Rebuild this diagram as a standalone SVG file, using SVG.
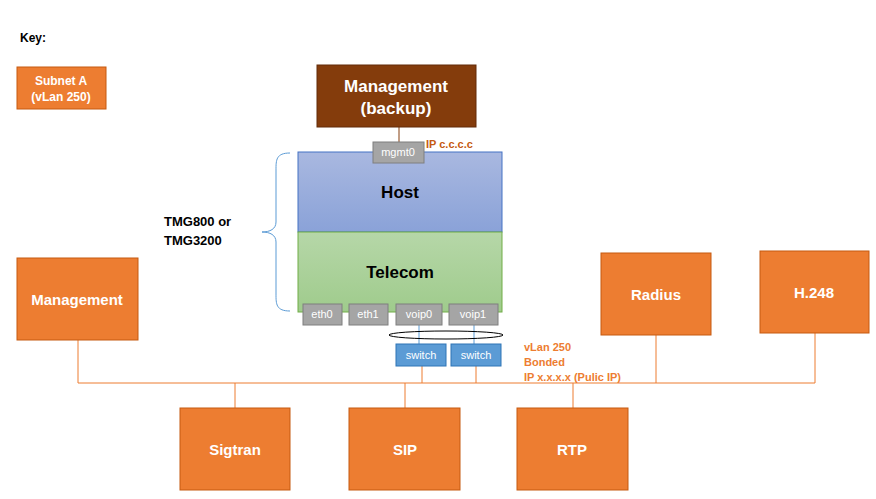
<svg xmlns="http://www.w3.org/2000/svg" width="876" height="499" viewBox="0 0 876 499">
<defs>
<linearGradient id="gh" x1="0" y1="0" x2="0" y2="1"><stop offset="0" stop-color="#a9b8e0"/><stop offset="1" stop-color="#8aa2d8"/></linearGradient>
<linearGradient id="gt" x1="0" y1="0" x2="0" y2="1"><stop offset="0" stop-color="#b6d7a8"/><stop offset="1" stop-color="#9fcb8c"/></linearGradient>
</defs>
<style>
.o{fill:#ed7d31;stroke:#c55a11;stroke-width:1}
.ot{font-family:"Liberation Sans",Arial,sans-serif;font-weight:bold;fill:#fff;text-anchor:middle}
.g{fill:#a5a5a5;stroke:#7f7f7f;stroke-width:1}
.gt{font-family:"Liberation Sans",Arial,sans-serif;font-size:11px;fill:#fff;text-anchor:middle}
.s{fill:#5b9bd5;stroke:#2e75b6;stroke-width:1}
.bt{font-family:"Liberation Sans",Arial,sans-serif;font-weight:bold;fill:#000;text-anchor:middle}
.ln{stroke:#ed7d31;stroke-width:1;fill:none}
.lab{font-family:"Liberation Sans",Arial,sans-serif;font-size:11px;font-weight:bold;fill:#ed7d31}
</style>
<g id="connectors">
<path class="ln" d="M78 383H815M78 340V383M656 335V383M815 333V383M235 383V408M405 383V408M573 383V408M422 366V383M476 366V383"/>
<path d="M399 127V142" stroke="#843c0c" fill="none"/>
<path d="M419 325V344M474 325V344" stroke="#5b9bd5" fill="none"/>
<ellipse cx="446" cy="335" rx="57" ry="4" fill="none" stroke="#000"/>
</g>
<text x="20" y="42" font-family="Liberation Sans,Arial,sans-serif" font-weight="bold" font-size="12">Key:</text>
<g id="key"><rect class="o" x="17" y="67" width="89" height="42"/><text class="ot" font-size="12" x="61" y="85">Subnet A</text><text class="ot" font-size="12" x="61" y="101">(vLan 250)</text></g>
<g id="mgmt-backup"><rect x="317" y="65" width="159" height="62" fill="#843c0c" stroke="#622b08"/><text class="ot" font-size="17" x="396" y="92">Management</text><text class="ot" font-size="17" x="396" y="114">(backup)</text></g>
<g id="host"><rect x="298" y="152" width="204" height="80" fill="url(#gh)" stroke="#4472c4"/><text class="bt" font-size="17" x="400" y="198">Host</text></g>
<g id="telecom"><rect x="298" y="232" width="204" height="80" fill="url(#gt)" stroke="#70ad47"/><text class="bt" font-size="17" x="400" y="278">Telecom</text></g>
<g id="mgmt0"><rect class="g" x="373" y="142" width="51" height="21"/><text class="gt" x="398" y="156">mgmt0</text></g>
<text class="lab" x="426" y="148" fill="#c55a11" style="fill:#c55a11">IP c.c.c.c</text>
<g id="eth0"><rect class="g" x="303" y="304" width="39" height="21"/><text class="gt" x="322" y="318">eth0</text></g>
<g id="eth1"><rect class="g" x="349" y="304" width="39" height="21"/><text class="gt" x="368" y="318">eth1</text></g>
<g id="voip0"><rect class="g" x="396" y="304" width="46" height="21"/><text class="gt" x="419" y="318">voip0</text></g>
<g id="voip1"><rect class="g" x="449" y="304" width="49" height="21"/><text class="gt" x="473" y="318">voip1</text></g>
<g id="switch1"><rect class="s" x="396" y="344" width="50" height="22"/><text class="gt" x="421" y="359">switch</text></g>
<g id="switch2"><rect class="s" x="451" y="344" width="50" height="22"/><text class="gt" x="476" y="359">switch</text></g>
<path d="M290 153C276 153 276 160 276 170V222C276 229 270 232 262 232C270 232 276 235 276 242V294C276 304 276 311 290 311" fill="none" stroke="#5b9bd5"/>
<text x="164" y="226" font-family="Liberation Sans,Arial,sans-serif" font-weight="bold" font-size="13">TMG800 or</text>
<text x="164" y="245" font-family="Liberation Sans,Arial,sans-serif" font-weight="bold" font-size="13">TMG3200</text>
<text class="lab" x="524" y="351">vLan 250</text>
<text class="lab" x="524" y="366">Bonded</text>
<text class="lab" x="524" y="381">IP x.x.x.x (Pulic IP)</text>
<g id="management"><rect class="o" x="17" y="258" width="121" height="82"/><text class="ot" font-size="15" x="77" y="305">Management</text></g>
<g id="radius"><rect class="o" x="601" y="253" width="110" height="82"/><text class="ot" font-size="15" x="656" y="300">Radius</text></g>
<g id="h248"><rect class="o" x="760" y="251" width="109" height="82"/><text class="ot" font-size="15" x="814" y="298">H.248</text></g>
<g id="sigtran"><rect class="o" x="180" y="408" width="110" height="82"/><text class="ot" font-size="15" x="235" y="455">Sigtran</text></g>
<g id="sip"><rect class="o" x="349" y="408" width="111" height="82"/><text class="ot" font-size="15" x="405" y="455">SIP</text></g>
<g id="rtp"><rect class="o" x="517" y="408" width="111" height="82"/><text class="ot" font-size="15" x="572" y="455">RTP</text></g>
</svg>
